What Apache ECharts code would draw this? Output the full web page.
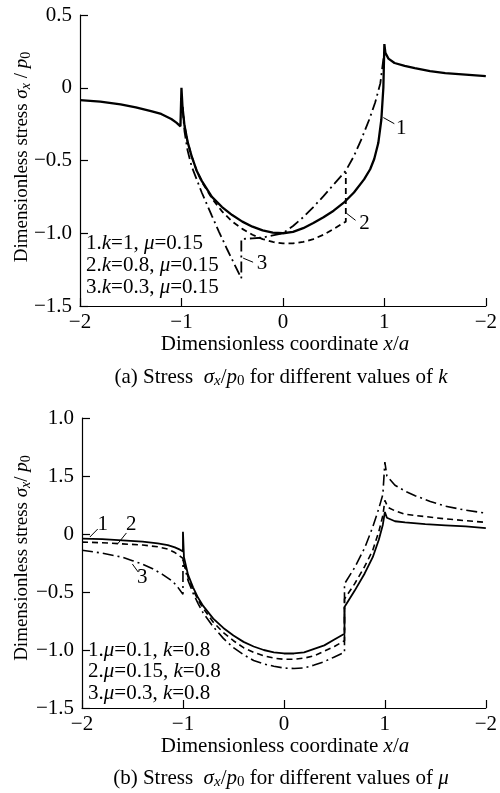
<!DOCTYPE html>
<html><head><meta charset="utf-8">
<script src="https://cdn.jsdelivr.net/npm/echarts@6/dist/echarts.min.js"></script>
<style>html,body{margin:0;padding:0;background:#fff}#c{width:500px;height:793px}</style>
</head><body><div id="c"></div>
<script>
// ---------- data ----------
const xTickValues = [-2, -1, 0, 1, 2];
const xTickText = ['−2', '−1', '0', '1', '−2'];
const yTickValuesA = [-1.5, -1, -0.5, 0, 0.5];
const yTickTextA = ['−1.5', '−1.0', '−0.5', '0', '0.5'];
const yTickValuesB = [-1.5, -1, -0.5, 0, 0.5, 1];
const yTickTextB = ['−1.5', '−1.0', '−0.5', '0', '1.5', '1.0'];

const legendA = ['{n|1.}{i|k}{n|=1, }{i|μ}{n|=0.15}', '{n|2.}{i|k}{n|=0.8, }{i|μ}{n|=0.15}', '{n|3.}{i|k}{n|=0.3, }{i|μ}{n|=0.15}'];
const legendB = ['{n|1.}{i|μ}{n|=0.1, }{i|k}{n|=0.8}', '{n|2.}{i|μ}{n|=0.15, }{i|k}{n|=0.8}', '{n|3.}{i|μ}{n|=0.3, }{i|k}{n|=0.8}'];
const curveNames = ['1', '2', '3'];

// (a) k = 1, 0.8, 0.3 (mu = 0.15)
const a1 = [[-2,-0.085],[-1.8,-0.095],[-1.6,-0.115],[-1.45,-0.135],[-1.3,-0.16],[-1.2,-0.18],[-1.1,-0.215],[-1.05,-0.24],[-1.01,-0.265],[-1.0,0.0],[-0.99,-0.13],[-0.97,-0.26],[-0.94,-0.37],[-0.9,-0.47],[-0.85,-0.57],[-0.8,-0.64],[-0.7,-0.75],[-0.6,-0.82],[-0.5,-0.875],[-0.4,-0.92],[-0.3,-0.955],[-0.2,-0.98],[-0.1,-0.995],[0,-1.0],[0.1,-0.99],[0.2,-0.965],[0.3,-0.93],[0.4,-0.89],[0.5,-0.845],[0.6,-0.79],[0.7,-0.72],[0.8,-0.63],[0.86,-0.56],[0.9,-0.49],[0.94,-0.38],[0.97,-0.22],[0.99,0.0],[1.0,0.3],[1.01,0.24],[1.04,0.2],[1.1,0.17],[1.2,0.15],[1.3,0.135],[1.45,0.115],[1.6,0.1],[1.8,0.09],[2.0,0.08]];
const a2 = [[-0.99,-0.13],[-0.97,-0.26],[-0.94,-0.37],[-0.9,-0.47],[-0.85,-0.57],[-0.8,-0.645],[-0.7,-0.76],[-0.6,-0.85],[-0.5,-0.92],[-0.4,-0.97],[-0.3,-1.01],[-0.2,-1.04],[-0.1,-1.06],[0,-1.07],[0.1,-1.07],[0.2,-1.06],[0.3,-1.04],[0.4,-1.01],[0.5,-0.97],[0.62,-0.92],[0.62,-0.58]];
const a3 = [[-0.99,-0.13],[-0.97,-0.3],[-0.94,-0.43],[-0.9,-0.54],[-0.85,-0.63],[-0.8,-0.72],[-0.7,-0.88],[-0.63,-0.99],[-0.55,-1.11],[-0.48,-1.21],[-0.41,-1.31],[-0.41,-1.04],[-0.3,-1.035],[-0.2,-1.03],[-0.1,-1.015],[0,-1.0],[0.1,-0.95],[0.2,-0.89],[0.3,-0.82],[0.4,-0.745],[0.5,-0.665],[0.62,-0.57],[0.7,-0.47],[0.77,-0.36],[0.85,-0.22],[0.91,-0.1],[0.96,0.03],[1.0,0.25]];

// (b) mu = 0.1, 0.15, 0.3 (k = 0.8)
const b1 = [[-2,-0.04],[-1.8,-0.045],[-1.6,-0.055],[-1.4,-0.065],[-1.25,-0.08],[-1.15,-0.095],[-1.08,-0.115],[-1.03,-0.135],[-1.0,-0.15],[-1.0,0.02],[-0.99,-0.2],[-0.95,-0.35],[-0.9,-0.46],[-0.85,-0.55],[-0.8,-0.62],[-0.7,-0.73],[-0.6,-0.81],[-0.5,-0.875],[-0.4,-0.93],[-0.3,-0.97],[-0.2,-1.0],[-0.1,-1.02],[0,-1.03],[0.1,-1.03],[0.2,-1.02],[0.3,-0.99],[0.4,-0.96],[0.5,-0.91],[0.6,-0.86],[0.6,-0.63],[0.7,-0.49],[0.8,-0.34],[0.88,-0.2],[0.94,-0.05],[0.98,0.08],[1.0,0.19],[1.02,0.14],[1.1,0.11],[1.2,0.1],[1.4,0.085],[1.6,0.075],[1.8,0.065],[2.0,0.05]];
const b2 = [[-2,-0.07],[-1.8,-0.075],[-1.6,-0.085],[-1.4,-0.095],[-1.25,-0.11],[-1.15,-0.13],[-1.08,-0.16],[-1.03,-0.19],[-1.0,-0.21],[-0.97,-0.3],[-0.95,-0.37],[-0.9,-0.48],[-0.85,-0.57],[-0.8,-0.64],[-0.7,-0.76],[-0.6,-0.85],[-0.5,-0.92],[-0.4,-0.98],[-0.3,-1.02],[-0.2,-1.05],[-0.1,-1.07],[0,-1.08],[0.1,-1.08],[0.2,-1.07],[0.3,-1.05],[0.4,-1.01],[0.5,-0.97],[0.6,-0.92],[0.6,-0.56],[0.7,-0.43],[0.8,-0.28],[0.88,-0.14],[0.94,0.02],[0.98,0.16],[1.0,0.29],[1.03,0.23],[1.1,0.2],[1.2,0.17],[1.4,0.15],[1.6,0.13],[1.8,0.115],[2.0,0.1]];
const b3 = [[-2,-0.14],[-1.8,-0.165],[-1.6,-0.2],[-1.5,-0.23],[-1.4,-0.26],[-1.3,-0.3],[-1.2,-0.35],[-1.1,-0.41],[-1.05,-0.46],[-1.0,-0.52],[-1.0,-0.22],[-0.97,-0.33],[-0.95,-0.4],[-0.9,-0.51],[-0.85,-0.6],[-0.8,-0.68],[-0.7,-0.8],[-0.6,-0.9],[-0.5,-0.98],[-0.4,-1.04],[-0.3,-1.09],[-0.2,-1.12],[-0.1,-1.14],[0,-1.155],[0.1,-1.16],[0.2,-1.155],[0.3,-1.13],[0.4,-1.1],[0.5,-1.06],[0.6,-1.02],[0.6,-0.43],[0.7,-0.29],[0.8,-0.12],[0.88,0.06],[0.94,0.22],[0.98,0.34],[1.0,0.62],[1.02,0.5],[1.1,0.42],[1.2,0.37],[1.3,0.33],[1.45,0.28],[1.6,0.24],[1.8,0.205],[2.0,0.18]];

// ---------- chart ----------
const FONT = 'Liberation Serif';
const FS = 21;
const LS = [{type:'solid'}, {type:[6,4]}, {type:[11,4,2,4]}];
function pick(vals, texts) {
  return function (v) {
    for (let i = 0; i < vals.length; i++) if (Math.abs(vals[i] - v) < 1e-6) return texts[i];
    return '';
  };
}
function xAxis(g) {
  return {type:'value', gridIndex:g, min:-2, max:2, interval:1,
    axisLine:{show:true, onZero:false, lineStyle:{color:'#000', width:1.2}},
    axisTick:{show:true, inside:true, length:8, lineStyle:{color:'#000', width:1.2}},
    axisLabel:{color:'#000', fontFamily:FONT, fontSize:FS, margin:6, formatter:pick(xTickValues, xTickText)},
    splitLine:{show:false}};
}
function yAxis(g, max, vals, texts) {
  return {type:'value', gridIndex:g, min:-1.5, max:max, interval:0.5,
    axisLine:{show:true, onZero:false, lineStyle:{color:'#000', width:1.2}},
    axisTick:{show:true, inside:true, length:8, lineStyle:{color:'#000', width:1.2}},
    axisLabel:{color:'#000', fontFamily:FONT, fontSize:FS, margin:8, formatter:pick(vals, texts)},
    splitLine:{show:false}};
}
function ser(g, data, k, w) {
  return {type:'line', xAxisIndex:g, yAxisIndex:g, data:data, symbol:'none', smooth:false,
    name:curveNames[k], lineStyle:{color:'#000', width:w, type:LS[k].type}, z: 3 - k};
}
const chart = echarts.init(document.getElementById('c'), null, {renderer:'canvas'});
chart.setOption({
  animation:false,
  backgroundColor:'#fff',
  grid:[{left:80, top:15, width:408, height:291}, {left:82, top:418, width:409, height:290}],
  xAxis:[xAxis(0), xAxis(1)],
  yAxis:[yAxis(0, 0.5, yTickValuesA, yTickTextA), yAxis(1, 1.0, yTickValuesB, yTickTextB)],
  series:[ser(0,a1,0,2.3), ser(0,a2,1,1.8), ser(0,a3,2,1.8), ser(1,b1,0,1.8), ser(1,b2,1,1.6), ser(1,b3,2,1.6)]
});

function mkRich(fs, ss) {
  return {
    n:{fontFamily:FONT, fontSize:fs, fill:'#000', lineHeight:fs + 3},
    i:{fontFamily:FONT, fontSize:fs, fontStyle:'italic', fill:'#000', lineHeight:fs + 3},
    s:{fontFamily:FONT, fontSize:ss, fontStyle:'italic', fill:'#000', lineHeight:ss - 2, verticalAlign:'bottom'},
    z:{fontFamily:FONT, fontSize:ss, fill:'#000', lineHeight:ss - 2, verticalAlign:'bottom'}
  };
}
const richBig = mkRich(FS, 15);
const richSmall = mkRich(19, 14);
function txt(x, y, text, align, rot, rich) {
  return {type:'text', x:x, y:y, rotation:rot || 0, silent:true, z:10,
    style:{x:0, y:0, text:text, rich:rich || richBig, fontFamily:FONT, fontSize:FS, fill:'#000',
      align:align || 'center', verticalAlign:'middle'}};
}
const P = (g, pt) => chart.convertToPixel({gridIndex:g}, pt);
// curve-number annotations in data units: [leaderStart, leaderEnd, textPos]
const annA = [[[0.99,-0.205],[1.098,-0.247],[1.167,-0.281]], [[0.627,-0.863],[0.716,-0.911],[0.804,-0.932]], [[-0.392,-1.171],[-0.294,-1.199],[-0.206,-1.205]]];
const annB = [[[-1.922,-0.026],[-1.844,0.043],[-1.795,0.086]], [[-1.648,-0.086],[-1.56,0.009],[-1.511,0.078]], [[-1.501,-0.259],[-1.443,-0.328],[-1.403,-0.379]]];
const gr = [];
[[0, annA], [1, annB]].forEach(([g, ann]) => {
  ann.forEach((a, k) => {
    const p1 = P(g, a[0]), p2 = P(g, a[1]), p3 = P(g, a[2]);
    gr.push({type:'line', silent:true, z:10, shape:{x1:p1[0], y1:p1[1], x2:p2[0], y2:p2[1]}, style:{stroke:'#000', lineWidth:1}});
    gr.push(txt(p3[0], p3[1], '{n|' + curveNames[k] + '}', 'center'));
  });
});
// titles
gr.push(txt(22, 157, '{n|Dimensionless stress }{i|σ}{s|x}{n| / }{i|p}{z|0}', 'center', Math.PI / 2, richSmall));
gr.push(txt(22, 558, '{n|Dimensionless stress }{i|σ}{s|x}{n|/ }{i|p}{z|0}', 'center', Math.PI / 2, richSmall));
gr.push(txt(285, 344, '{n|Dimensionless coordinate }{i|x}{n|/}{i|a}', 'center'));
gr.push(txt(285, 746, '{n|Dimensionless coordinate }{i|x}{n|/}{i|a}', 'center'));
gr.push(txt(281, 377, '{n|(a) Stress  }{i|σ}{s|x}{n|/}{i|p}{z|0}{n| for different values of }{i|k}', 'center'));
gr.push(txt(281, 778, '{n|(b) Stress  }{i|σ}{s|x}{n|/}{i|p}{z|0}{n| for different values of }{i|μ}', 'center'));
// legends
legendA.forEach((t, k) => gr.push(txt(86, 243 + k * 22, t, 'left')));
legendB.forEach((t, k) => gr.push(txt(88, 650 + k * 21.5, t, 'left')));
chart.setOption({graphic:gr});
</script></body></html>
